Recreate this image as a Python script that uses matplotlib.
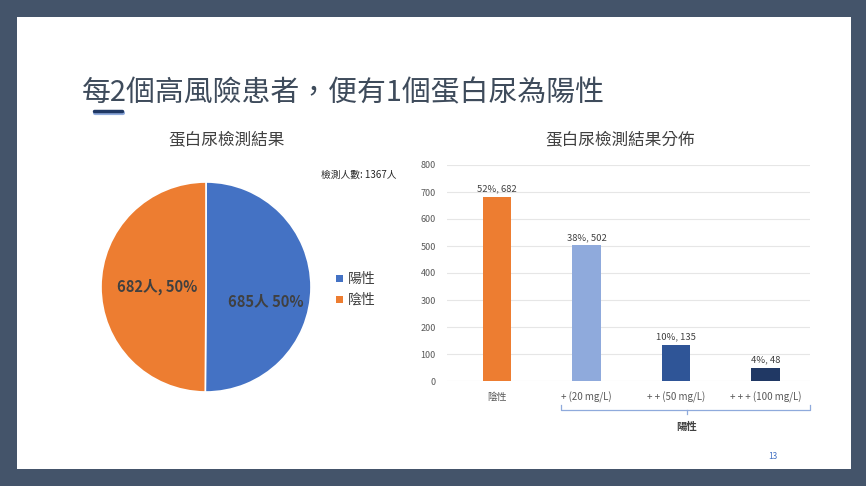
import matplotlib
matplotlib.use("Agg")
import matplotlib.pyplot as plt
from matplotlib.patches import Rectangle
from matplotlib.lines import Line2D

plt.rcParams['font.family'] = ['Noto Sans CJK TC', 'DejaVu Sans']

# Data
pie_labels = ['陽性', '陰性']
pie_values = [685, 682]
pie_texts = ['685人 50%', '682人, 50%']
total_text = '檢測人數: 1367人'

bar_categories = ['陰性', '+ (20 mg/L)', '+ + (50 mg/L)', '+ + + (100 mg/L)']
bar_values = [682, 502, 135, 48]
bar_pcts = ['52%', '38%', '10%', '4%']

W, H = 866, 486
fig = plt.figure(figsize=(W / 100, H / 100), dpi=100)
fig.patch.set_facecolor('#44546A')

def fx(px):
    return px / W

def fy(py):
    return 1 - py / H

# slide background
bg = fig.add_axes([0, 0, 1, 1])
bg.set_xlim(0, W)
bg.set_ylim(H, 0)
bg.axis('off')
bg.add_patch(Rectangle((17, 17), 834, 452, facecolor='white', edgecolor='none'))

# title
bg.text(82, 93, '每2個高風險患者，便有1個蛋白尿為陽性', fontsize=20.8, color='#3E4B5B',
        va='center', ha='left')
bg.add_line(Line2D([95, 123], [113.5, 113.5], color='#8FAADC', lw=3, solid_capstyle='round'))
bg.add_line(Line2D([94, 122], [111.5, 111.5], color='#1F3864', lw=2.5, solid_capstyle='round'))

# sub titles
bg.text(227, 141, '蛋白尿檢測結果', fontsize=12, color='#404040', ha='center', va='center')
bg.text(620, 141, '蛋白尿檢測結果分佈', fontsize=12, color='#404040', ha='center', va='center')
bg.text(359, 175, total_text, fontsize=7, color='#262626', ha='center', va='center')

# page number
bg.text(773, 456, '13', fontsize=6, color='#4472C4', ha='center', va='center')

# pie
pie_colors = ['#4472C4', '#ED7D31']
cx, cy, r = 206, 287, 105
pax = fig.add_axes([fx(cx - r), fy(cy + r), 2 * r / W, 2 * r / H])
pax.pie(pie_values, colors=pie_colors, startangle=90, counterclock=False,
        wedgeprops=dict(edgecolor='white', linewidth=1.2))
pax.set_xlim(-1, 1)
pax.set_ylim(-1, 1)
pax.set_aspect('equal')
fig.text(fx(266), fy(301), pie_texts[0], fontsize=10.6, fontweight='bold', color='#404040',
         ha='center', va='center', zorder=10)
fig.text(fx(157), fy(287), pie_texts[1], fontsize=10.6, fontweight='bold', color='#404040',
         ha='center', va='center', zorder=10)

# legend
for i, (lab, col) in enumerate(zip(pie_labels, pie_colors)):
    y = 279 + i * 21
    bg.add_patch(Rectangle((336, y - 4), 7, 7, facecolor=col, edgecolor='none'))
    bg.text(348, y, lab, fontsize=10, color='#404040', ha='left', va='center')

# bar chart
bar_colors = ['#ED7D31', '#8FAADC', '#2F5597', '#203864']
bax = fig.add_axes([fx(447), fy(381), fx(810) - fx(447), fy(165) - fy(381)])
x = list(range(len(bar_categories)))
bars = bax.bar(x, bar_values, width=0.32, color=bar_colors, zorder=3)
bax.set_ylim(0, 800)
bax.set_xlim(-0.56, 3.5)
bax.set_yticks(range(0, 801, 100))
bax.yaxis.grid(True, color='#E6E6E6', lw=0.8, zorder=0)
for s in bax.spines.values():
    s.set_visible(False)
bax.tick_params(axis='y', length=0, labelsize=6.5, labelcolor='#595959', pad=8)
bax.tick_params(axis='x', length=0, labelsize=7, labelcolor='#595959', pad=8)
bax.set_xticks(x)
bax.set_xticklabels(bar_categories)
for xi, v, p in zip(x, bar_values, bar_pcts):
    bax.text(xi, v + 12, f'{p}, {v}', fontsize=6.8, color='#404040',
             ha='center', va='bottom')

# bracket for 陽性
bc = '#8FAADC'
bg.add_line(Line2D([561, 561, 810, 810], [405, 410, 410, 405], color=bc, lw=0.9))
bg.add_line(Line2D([687, 687], [410, 414], color=bc, lw=0.9))
bg.text(687, 427, '陽性', fontsize=7.5, fontweight='bold', color='#404040',
        ha='center', va='center')

fig.savefig('out.png', dpi=100, facecolor=fig.get_facecolor())
